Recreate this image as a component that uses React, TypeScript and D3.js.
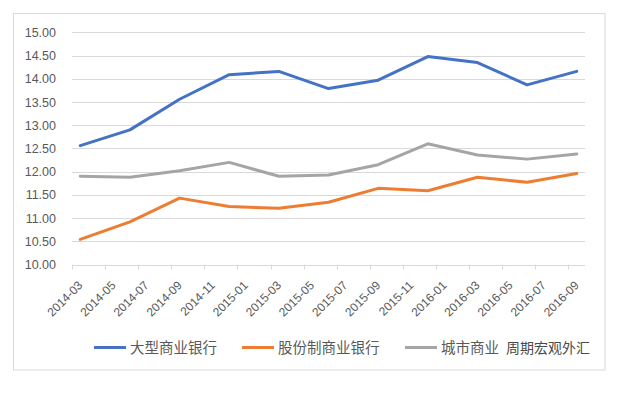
import React from "react";
import * as d3 from "d3";

const dates = ["2014-03", "2014-06", "2014-09", "2014-12", "2015-03", "2015-06", "2015-09", "2015-12", "2016-03", "2016-06", "2016-09"];
const largeBanks = [12.56, 12.9, 13.56, 14.09, 14.16, 13.79, 13.97, 14.48, 14.35, 13.87, 14.16];
const jointStockBanks = [10.54, 10.92, 11.43, 11.25, 11.21, 11.34, 11.64, 11.59, 11.88, 11.77, 11.96];
const cityBanks = [11.9, 11.88, 12.02, 12.2, 11.9, 11.93, 12.15, 12.6, 12.36, 12.27, 12.38];
// third legend label is partly hidden by the watermark in the reference
const seriesNames = ["大型商业银行", "股份制商业银行", "城市商业"];
const xTickLabels = ["2014-03", "2014-05", "2014-07", "2014-09", "2014-11", "2015-01", "2015-03", "2015-05", "2015-07", "2015-09", "2015-11", "2016-01", "2016-03", "2016-05", "2016-07", "2016-09"];
const yTicks = [10, 10.5, 11, 11.5, 12, 12.5, 13, 13.5, 14, 14.5, 15];
const watermark = "周期宏观外汇";

const colors = ["#4472C4", "#ED7D31", "#A5A5A5"];

export default function App() {
  const W = 620, H = 394;
  const left = 72, right = 585, top = 32.4, bottom = 264.5;
  const fmt = d3.timeFormat("%Y-%m");
  const months = d3.timeMonth.range(new Date(2014, 2, 1), new Date(2016, 9, 1)).map(fmt);
  const x = d3.scaleBand<string>().domain(months).range([left, right]).padding(0);
  const bw = x.bandwidth();
  const y = d3.scaleLinear().domain([10, 15]).range([bottom, top]);
  const series = [largeBanks, jointStockBanks, cityBanks];
  const line = d3
    .line<number>()
    .x((_, i) => (x(dates[i]) as number) + bw / 2)
    .y((v) => y(v));

  const legendItems = [
    { x1: 94, tx: 130 },
    { x1: 242, tx: 278 },
    { x1: 405, tx: 441 },
  ];
  const legendY = 347.5;
  const axisFont = "'Liberation Sans', Arial, sans-serif";
  const cjkFont = "'Noto Sans CJK SC', sans-serif";

  return (
    <svg width={W} height={H} style={{ position: "absolute", left: 0, top: 0, background: "#fff" }}>
      <rect x={0} y={0} width={W} height={H} fill="#fff" />
      <rect x={13.5} y={13.5} width={591.5} height={356.5} fill="#fff" stroke="#D9D9D9" strokeWidth={1} />
      {yTicks.map((t) => (
        <g key={t}>
          <line x1={left} x2={right} y1={Math.round(y(t)) + 0.5} y2={Math.round(y(t)) + 0.5} stroke="#D9D9D9" strokeWidth={1} />
          <text x={56} y={y(t)} dy="0.36em" textAnchor="end" fontSize={12.5} fill="#595959" fontFamily={axisFont}>
            {d3.format(".2f")(t)}
          </text>
        </g>
      ))}
      {xTickLabels.map((m) => {
        const xt = Math.round(x(m) as number) + 0.5;
        const cx = (x(m) as number) + bw / 2;
        return (
          <g key={m}>
            <line x1={xt} x2={xt} y1={bottom} y2={bottom + 5} stroke="#D9D9D9" strokeWidth={1} />
            <text
              transform={`translate(${cx},${283}) rotate(-45)`}
              textAnchor="end"
              dy="0.36em"
              fontSize={12}
              fill="#595959"
              fontFamily={axisFont}
            >
              {m}
            </text>
          </g>
        );
      })}
      {series.map((s, i) => (
        <path key={i} d={line(s) as string} fill="none" stroke={colors[i]} strokeWidth={3} strokeLinejoin="round" strokeLinecap="round" />
      ))}
      {legendItems.map((l, i) => (
        <g key={i}>
          <line x1={l.x1} x2={l.x1 + 32} y1={legendY} y2={legendY} stroke={colors[i]} strokeWidth={3} />
          <text x={l.tx} y={legendY} dy="0.36em" fontSize={14.5} fill="#595959" fontFamily={cjkFont}>
            {seriesNames[i]}
          </text>
        </g>
      ))}
      <text x={590} y={legendY} dy="0.36em" textAnchor="end" fontSize={14} fill="#4a4a4a" fontFamily={cjkFont}>
        {watermark}
      </text>
    </svg>
  );
}
